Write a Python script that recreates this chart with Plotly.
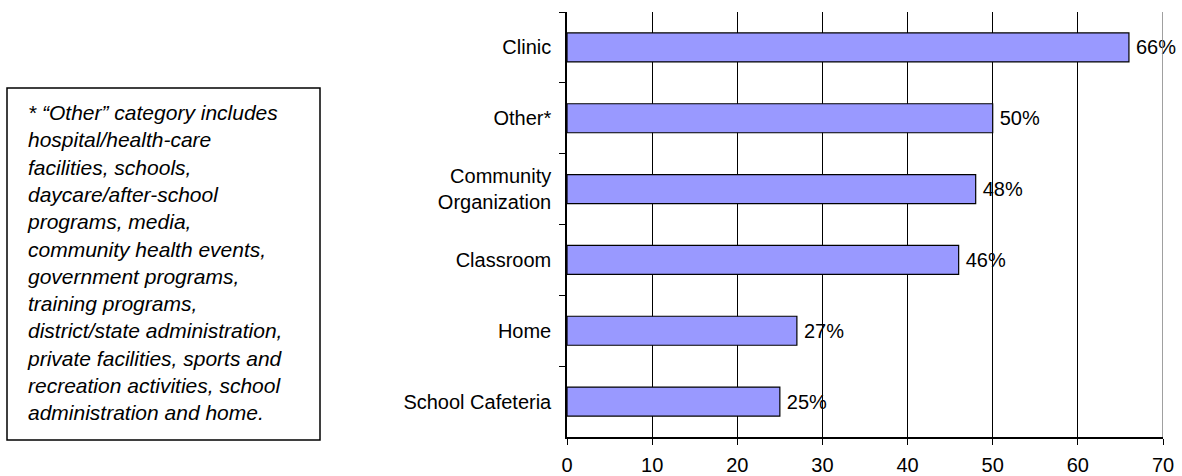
import plotly.graph_objects as go

categories = ["Clinic", "Other*", "Community<br>Organization", "Classroom", "Home", "School Cafeteria"]
values = [66, 50, 48, 46, 27, 25]
labels = ["66%", "50%", "48%", "46%", "27%", "25%"]
x_ticks = [0, 10, 20, 30, 40, 50, 60, 70]

note_lines = [
    "* \u201cOther\u201d category includes",
    "hospital/health-care",
    "facilities, schools,",
    "daycare/after-school",
    "programs, media,",
    "community health events,",
    "government programs,",
    "training programs,",
    "district/state administration,",
    "private facilities, sports and",
    "recreation activities, school",
    "administration and home.",
]

FONT = "Liberation Sans, Arial, sans-serif"

fig = go.Figure()
fig.add_trace(go.Bar(
    y=categories, x=values, orientation="h",
    marker=dict(color="#9999FF", line=dict(color="black", width=1.2)),
    width=0.41,
    text=labels, texttemplate="\u2009%{text}",
    textposition="outside", textfont=dict(family=FONT, size=20, color="black"),
    cliponaxis=False, hoverinfo="skip",
))

W, H = 1182, 476
L, R, T, B = 567, 19, 12, 39
pw = W - L - R
ph = H - T - B

def px_x(p):
    return (p - L) / pw

def px_y(p):
    return (H - B - p) / ph

fig.add_shape(type="rect", xref="paper", yref="paper",
              x0=px_x(7), x1=px_x(320), y0=px_y(440), y1=px_y(88),
              line=dict(color="black", width=1.5), fillcolor="white")
fig.add_annotation(xref="paper", yref="paper", x=px_x(25), y=px_y(99),
                   xanchor="left", yanchor="top", align="left", showarrow=False,
                   text="<br>".join(note_lines),
                   font=dict(family=FONT, size=21, color="black", style="italic"))

# grey right border line at 70
fig.add_shape(type="line", xref="x", yref="paper", x0=70, x1=70, y0=0, y1=1,
              line=dict(color="#808080", width=1.5))

fig.update_layout(
    width=W, height=H,
    margin=dict(l=L, r=R, t=T, b=B, pad=0, autoexpand=False),
    paper_bgcolor="white", plot_bgcolor="white",
    showlegend=False,
    font=dict(family=FONT, size=20, color="black"),
    xaxis=dict(range=[0, 70], tickvals=x_ticks, ticktext=[str(v) for v in x_ticks],
               showgrid=True, gridcolor="black", gridwidth=1,
               showline=True, linecolor="black", linewidth=1.5,
               ticks="outside", ticklen=6, tickcolor="black", zeroline=False,
               tickfont=dict(family=FONT, size=20), ticklabelstandoff=3, automargin=False),
    yaxis=dict(autorange="reversed", showgrid=False, showline=True, linecolor="black", linewidth=1.5,
               ticks="outside", ticklen=6, tickcolor="black", tickson="boundaries",
               tickfont=dict(family=FONT, size=20), ticklabelstandoff=10, automargin=False),
)

fig.write_html("out.html", config={"displayModeBar": False},
               post_script="document.body.style.margin='0';")
